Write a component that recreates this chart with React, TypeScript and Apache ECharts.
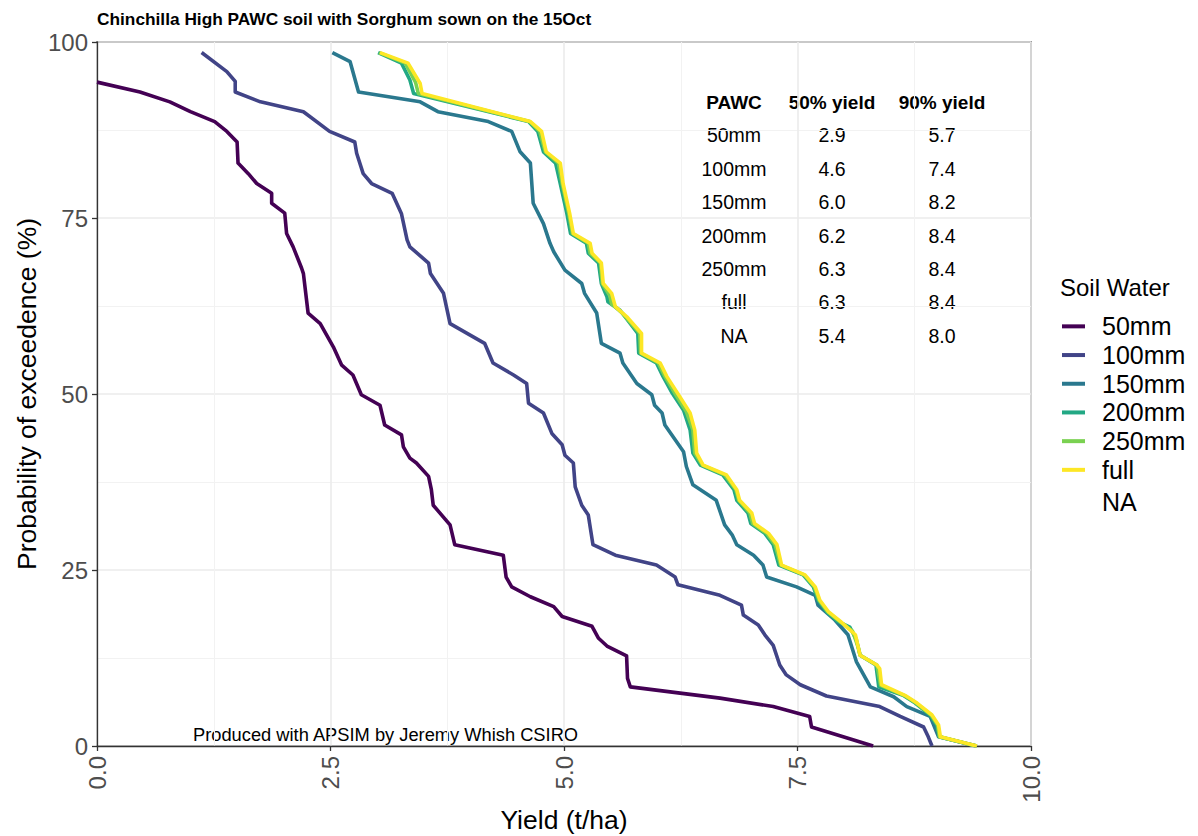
import React, { useEffect, useRef } from "react";
import * as echarts from "echarts";

// ---- Data ----
const seriesNames = ["50mm", "100mm", "150mm", "200mm", "250mm", "full"];
const seriesColors = ["#440154", "#414487", "#2A788E", "#22A884", "#7AD151", "#FDE725"];

const yield50mm = [0, 0.46, 0.78, 1.0, 1.26, 1.39, 1.5, 1.51, 1.62, 1.71, 1.87, 1.87, 2.01, 2.03, 2.1, 2.19, 2.21, 2.26, 2.39, 2.53, 2.62, 2.74, 2.83, 3.03, 3.08, 3.26, 3.28, 3.35, 3.42, 3.55, 3.58, 3.6, 3.78, 3.83, 4.35, 4.38, 4.44, 4.64, 4.89, 4.98, 5.3, 5.37, 5.46, 5.67, 5.68, 5.71, 6.67, 7.24, 7.63, 7.65, 8.31];
const prob50mm = [94.3, 92.9, 91.5, 90.1, 88.7, 87.3, 85.8, 82.8, 81.3, 79.9, 78.5, 77.1, 75.7, 72.8, 70.9, 67.9, 67.1, 61.5, 60.0, 56.7, 54.1, 52.7, 49.9, 48.4, 45.6, 44.2, 42.5, 40.9, 40.2, 38.3, 36.4, 34.2, 31.4, 28.6, 27.1, 24.0, 22.6, 21.2, 19.8, 18.4, 17.0, 15.3, 14.2, 12.8, 9.6, 8.4, 6.8, 5.6, 4.2, 2.7, 0];

const yield100mm = [1.12, 1.39, 1.48, 1.48, 1.75, 2.21, 2.49, 2.76, 2.78, 2.85, 2.94, 3.16, 3.26, 3.32, 3.35, 3.55, 3.57, 3.71, 3.78, 4.15, 4.24, 4.46, 4.6, 4.62, 4.78, 4.87, 4.98, 5.01, 5.1, 5.12, 5.19, 5.26, 5.31, 5.55, 5.99, 6.19, 6.22, 6.67, 6.9, 6.92, 7.08, 7.15, 7.24, 7.31, 7.38, 7.53, 7.81, 8.38, 8.6, 8.85, 8.9, 8.94];
const prob100mm = [98.5, 95.8, 94.4, 92.9, 91.5, 90.1, 87.3, 85.8, 84.2, 81.3, 79.9, 78.5, 75.6, 71.9, 70.9, 68.6, 67.1, 64.3, 60.0, 57.2, 54.4, 52.7, 51.5, 48.7, 47.3, 44.4, 42.8, 41.3, 40.2, 36.8, 34.2, 32.8, 28.6, 27.1, 25.7, 24.0, 22.9, 21.4, 20.0, 18.6, 17.2, 15.8, 14.3, 11.5, 10.1, 8.7, 7.1, 5.6, 4.2, 2.7, 1.3, 0];

const yield150mm = [2.52, 2.71, 2.8, 3.46, 3.65, 4.19, 4.44, 4.53, 4.64, 4.67, 4.78, 4.85, 4.89, 5.01, 5.19, 5.22, 5.35, 5.4, 5.6, 5.63, 5.78, 5.94, 5.97, 6.05, 6.08, 6.28, 6.31, 6.38, 6.63, 6.72, 6.8, 6.85, 7.03, 7.13, 7.17, 7.49, 7.69, 7.72, 7.9, 8.04, 8.13, 8.28, 8.53, 8.67, 8.92, 9.01, 9.42];
const prob150mm = [98.5, 97.2, 92.9, 91.5, 90.1, 88.7, 87.3, 84.4, 82.8, 77.1, 74.2, 71.4, 70.2, 67.6, 65.7, 64.3, 61.5, 57.2, 55.8, 54.4, 51.5, 49.9, 48.4, 47.3, 45.6, 41.8, 39.7, 37.1, 34.9, 31.4, 30.0, 28.6, 27.1, 25.7, 24.0, 22.6, 21.4, 20.0, 17.9, 15.8, 12.0, 8.4, 7.0, 5.6, 4.2, 1.3, 0];

const yield200mm = [3.01, 3.26, 3.35, 3.39, 4.62, 4.72, 4.78, 4.91, 4.96, 5.03, 5.07, 5.24, 5.26, 5.37, 5.4, 5.46, 5.47, 5.6, 5.79, 5.8, 5.99, 6.06, 6.16, 6.28, 6.35, 6.38, 6.46, 6.7, 6.82, 6.85, 6.97, 7.0, 7.15, 7.24, 7.3, 7.56, 7.67, 7.72, 7.81, 7.93, 8.06, 8.13, 8.17, 8.34, 8.37, 8.63, 8.76, 8.92, 8.99, 9.02, 9.41];
const prob200mm = [98.5, 97.0, 94.6, 92.7, 88.7, 87.3, 84.4, 82.8, 79.9, 75.7, 72.8, 71.4, 70.0, 68.6, 65.7, 63.8, 63.1, 61.9, 58.6, 55.8, 54.4, 52.5, 50.1, 47.7, 44.9, 41.6, 39.9, 38.5, 36.4, 34.9, 33.1, 31.6, 30.2, 28.6, 25.7, 24.3, 22.6, 20.7, 19.1, 17.7, 16.9, 15.1, 12.9, 11.5, 8.4, 7.2, 6.1, 4.4, 3.0, 1.3, 0];

const yield250mm = [3.02, 3.3, 3.41, 3.44, 4.63, 4.74, 4.8, 4.94, 4.98, 5.05, 5.09, 5.26, 5.28, 5.39, 5.41, 5.49, 5.51, 5.63, 5.81, 5.82, 6.01, 6.08, 6.2, 6.31, 6.38, 6.4, 6.48, 6.72, 6.84, 6.87, 6.99, 7.02, 7.17, 7.26, 7.32, 7.57, 7.68, 7.73, 7.82, 7.95, 8.09, 8.15, 8.17, 8.35, 8.39, 8.64, 8.77, 8.93, 9.0, 9.02, 9.42];
const prob250mm = [98.5, 97.0, 94.3, 92.7, 88.7, 87.3, 84.4, 82.8, 79.9, 75.7, 72.8, 71.4, 70.0, 68.6, 65.7, 64.0, 62.8, 61.4, 58.6, 55.8, 54.4, 52.5, 49.8, 47.5, 44.9, 41.6, 39.9, 38.5, 36.4, 34.9, 33.1, 31.6, 30.2, 28.6, 25.7, 24.3, 22.6, 20.7, 19.1, 17.7, 16.3, 14.0, 12.9, 11.5, 8.6, 7.2, 6.1, 4.4, 3.0, 1.3, 0];

const yieldFull = [3.03, 3.33, 3.46, 3.48, 4.64, 4.76, 4.81, 4.96, 4.99, 5.06, 5.1, 5.28, 5.3, 5.4, 5.42, 5.51, 5.55, 5.67, 5.83, 5.83, 6.03, 6.1, 6.24, 6.35, 6.4, 6.42, 6.49, 6.74, 6.85, 6.88, 7.01, 7.04, 7.19, 7.28, 7.33, 7.58, 7.69, 7.74, 7.83, 7.96, 8.12, 8.17, 8.35, 8.38, 8.4, 8.65, 8.78, 8.94, 9.01, 9.03, 9.42];
const probFull = [98.5, 97.0, 94.1, 92.7, 88.7, 87.3, 84.4, 82.8, 79.9, 75.7, 72.8, 71.4, 70.0, 68.6, 65.7, 64.3, 62.4, 61.0, 58.6, 55.8, 54.4, 52.5, 49.6, 47.3, 44.9, 41.6, 39.9, 38.5, 36.4, 34.9, 33.1, 31.6, 30.2, 28.6, 25.7, 24.3, 22.6, 20.7, 19.1, 17.7, 15.8, 12.9, 11.5, 11.0, 8.7, 7.2, 6.1, 4.4, 3.0, 1.3, 0];

const seriesYields = [yield50mm, yield100mm, yield150mm, yield200mm, yield250mm, yieldFull];
const seriesProbs = [prob50mm, prob100mm, prob150mm, prob200mm, prob250mm, probFull];

// Summary table
const tableHeader = ["PAWC", "50% yield", "90% yield"];
const tablePawc = ["50mm", "100mm", "150mm", "200mm", "250mm", "full", "NA"];
const tableYield50 = ["2.9", "4.6", "6.0", "6.2", "6.3", "6.3", "5.4"];
const tableYield90 = ["5.7", "7.4", "8.2", "8.4", "8.4", "8.4", "8.0"];

const xTicks = [0, 2.5, 5, 7.5, 10];
const yTicks = [0, 25, 50, 75, 100];

const FONT = "'Liberation Sans', Arial, Helvetica, sans-serif";

export default function App() {
  const ref = useRef<HTMLDivElement>(null);

  useEffect(() => {
    if (!ref.current) return;
    const chart = echarts.init(ref.current, undefined, { renderer: "svg" });

    const series = seriesNames.map((name, i) => ({
      name,
      type: "line",
      data: seriesYields[i].map((x, j) => [x, seriesProbs[i][j]]),
      showSymbol: false,
      symbol: "none",
      lineStyle: { color: seriesColors[i], width: 3.6, join: "round", cap: "butt" },
      itemStyle: { color: seriesColors[i] },
      z: 2 + i,
    }));

    const colX = [734, 832, 942];
    const rowY0 = 102;
    const rowStep = 33.4;
    const tableTexts: any[] = [];
    tableHeader.forEach((h, c) => {
      tableTexts.push({
        type: "text",
        x: colX[c],
        y: rowY0,
        style: { text: h, font: `bold 19px ${FONT}`, fill: "#000", align: "center", verticalAlign: "middle" },
      });
    });
    tablePawc.forEach((p, r) => {
      const cells = [p, tableYield50[r], tableYield90[r]];
      cells.forEach((t, c) => {
        tableTexts.push({
          type: "text",
          x: colX[c],
          y: rowY0 + rowStep * (r + 1),
          style: { text: t, font: `19.5px ${FONT}`, fill: "#000", align: "center", verticalAlign: "middle" },
        });
      });
    });

    const option: any = {
      animation: false,
      textStyle: { fontFamily: FONT },
      grid: {
        left: 97,
        top: 42,
        width: 934,
        height: 704,
        outerBoundsMode: "none",
        containLabel: false,
        show: true,
        borderColor: "#333333",
        borderWidth: 1.3,
        backgroundColor: "transparent",
      },
      xAxis: {
        type: "value",
        min: xTicks[0],
        max: xTicks[xTicks.length - 1],
        interval: 2.5,
        name: "Yield (t/ha)",
        nameLocation: "middle",
        nameGap: 60,
        nameMoveOverlap: false,
        nameTextStyle: { fontSize: 26.5, lineHeight: 28, color: "#000", fontFamily: FONT },
        axisLine: { show: true, onZero: false, lineStyle: { color: "#333333", width: 1.3 } },
        axisTick: { show: true, length: 5, lineStyle: { color: "#333333", width: 1.3 } },
        axisLabel: {
          rotate: 90,
          margin: 10,
          fontSize: 24,
          color: "#4d4d4d",
          fontFamily: FONT,
          formatter: (v: number) => v.toFixed(1),
        },
        splitLine: { show: true, lineStyle: { color: "#ebebeb", width: 1.6 } },
        minorTick: { show: false, splitNumber: 2 },
        minorSplitLine: { show: true, lineStyle: { color: "#f2f2f2", width: 1.1 } },
      },
      yAxis: {
        type: "value",
        min: yTicks[0],
        max: yTicks[yTicks.length - 1],
        interval: 25,
        name: "Probability of exceedence (%)",
        nameLocation: "middle",
        nameGap: 57,
        nameMoveOverlap: false,
        nameTextStyle: { fontSize: 26.5, color: "#000", fontFamily: FONT },
        axisLine: { show: true, lineStyle: { color: "#333333", width: 1.3 } },
        axisTick: { show: true, length: 5, lineStyle: { color: "#333333", width: 1.3 } },
        axisLabel: { margin: 9, fontSize: 24, color: "#4d4d4d", fontFamily: FONT },
        splitLine: { show: true, lineStyle: { color: "#ebebeb", width: 1.6 } },
        minorTick: { show: false, splitNumber: 2 },
        minorSplitLine: { show: true, lineStyle: { color: "#f2f2f2", width: 1.1 } },
      },
      legend: {
        orient: "vertical",
        left: 1062,
        top: 312,
        padding: 0,
        itemGap: 0,
        itemWidth: 23,
        itemHeight: 4,
        icon: "rect",
        data: seriesNames,
        textStyle: { fontSize: 25, color: "#000", lineHeight: 28.7, padding: [0, 0, 0, 12], fontFamily: FONT },
      },
      graphic: [
        {
          type: "text",
          left: 97,
          top: 10,
          style: { text: "Chinchilla High PAWC soil with Sorghum sown on the 15Oct", font: `bold 17.3px ${FONT}`, fill: "#000" },
        },
        {
          type: "text",
          x: 1060,
          y: 287,
          style: { text: "Soil Water", font: `24px ${FONT}`, fill: "#000", verticalAlign: "middle" },
        },
        {
          type: "text",
          x: 1102,
          y: 502,
          style: { text: "NA", font: `25px ${FONT}`, fill: "#000", verticalAlign: "middle" },
        },
        {
          type: "text",
          x: 193,
          y: 734,
          style: { text: "Produced with APSIM by Jeremy Whish CSIRO", font: `18.3px ${FONT}`, fill: "#000", verticalAlign: "middle" },
        },
        ...tableTexts,
      ],
      series,
    };

    chart.setOption(option);
    return () => chart.dispose();
  }, []);

  return (
    <div
      ref={ref}
      style={{ position: "fixed", left: 0, top: 0, width: 1198, height: 836, background: "#fff" }}
    />
  );
}
